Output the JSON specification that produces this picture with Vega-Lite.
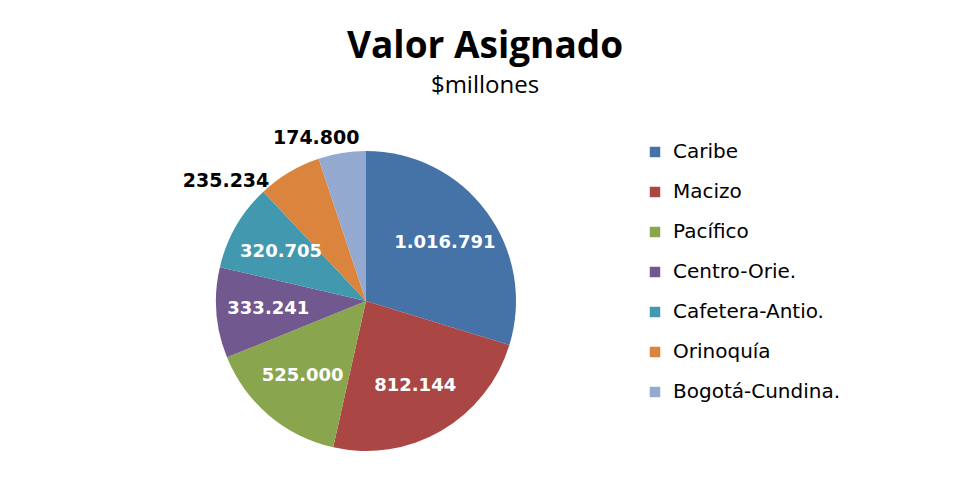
{
  "$schema": "https://vega.github.io/schema/vega-lite/v6.json",
  "width": 732,
  "height": 360,
  "autosize": {"type": "none"},
  "padding": {"left": 0, "top": 121, "right": 223, "bottom": 0},
  "background": "white",
  "title": {
    "text": "Valor Asignado",
    "subtitle": "$millones",
    "anchor": "middle",
    "frame": "group",
    "dx": 119,
    "offset": 22,
    "font": "Open Sans",
    "fontSize": 37,
    "fontWeight": "bold",
    "color": "black",
    "subtitleFont": "Open Sans",
    "subtitleFontSize": 24,
    "subtitleColor": "black",
    "subtitlePadding": 8
  },
  "config": {
    "view": {"stroke": null},
    "locale": {"number": {"decimal": ",", "thousands": ".", "grouping": [3], "currency": ["$", ""]}}
  },
  "data": {
    "values": [
      {"region": "Caribe", "valor": 1016791, "orden": 1},
      {"region": "Macizo", "valor": 812144, "orden": 2},
      {"region": "Pacífico", "valor": 525000, "orden": 3},
      {"region": "Centro-Orie.", "valor": 333241, "orden": 4},
      {"region": "Cafetera-Antio.", "valor": 320705, "orden": 5},
      {"region": "Orinoquía", "valor": 235234, "orden": 6},
      {"region": "Bogotá-Cundina.", "valor": 174800, "orden": 7}
    ]
  },
  "encoding": {
    "theta": {"field": "valor", "type": "quantitative", "stack": true},
    "order": {"field": "orden", "type": "quantitative"},
    "color": {
      "field": "region",
      "type": "nominal",
      "scale": {
        "domain": ["Caribe", "Macizo", "Pacífico", "Centro-Orie.", "Cafetera-Antio.", "Orinoquía", "Bogotá-Cundina."],
        "range": ["#4572A7", "#AA4643", "#89A54E", "#71588F", "#4198AF", "#DB843D", "#93A9CF"]
      },
      "legend": {
        "title": null,
        "orient": "none",
        "legendX": 645,
        "legendY": 21,
        "symbolType": "square",
        "symbolSize": 110,
        "symbolStrokeWidth": 0,
        "labelFont": "DejaVu Sans",
        "labelFontSize": 20,
        "labelColor": "black",
        "labelOffset": 8,
        "labelLimit": 400,
        "rowPadding": 20,
        "padding": 0
      }
    }
  },
  "layer": [
    {"mark": {"type": "arc", "outerRadius": 150}},
    {
      "mark": {"type": "text", "radius": 98, "font": "DejaVu Sans", "fontSize": 18, "fontWeight": "bold", "fill": "white"},
      "encoding": {
        "text": {"condition": {"test": "datum.orden <= 5", "field": "valor", "type": "quantitative", "format": ",d"}, "value": ""}
      }
    },
    {
      "mark": {"type": "text", "radius": 140, "dx": -25, "align": "right", "baseline": "middle", "font": "DejaVu Sans", "fontSize": 19, "fontWeight": "bold", "fill": "black"},
      "encoding": {
        "text": {"condition": {"test": "datum.orden == 6", "field": "valor", "type": "quantitative", "format": ",d"}, "value": ""}
      }
    },
    {
      "mark": {"type": "text", "radius": 155, "dx": -25, "align": "center", "baseline": "bottom", "font": "DejaVu Sans", "fontSize": 19, "fontWeight": "bold", "fill": "black"},
      "encoding": {
        "text": {"condition": {"test": "datum.orden == 7", "field": "valor", "type": "quantitative", "format": ",d"}, "value": ""}
      }
    }
  ]
}
